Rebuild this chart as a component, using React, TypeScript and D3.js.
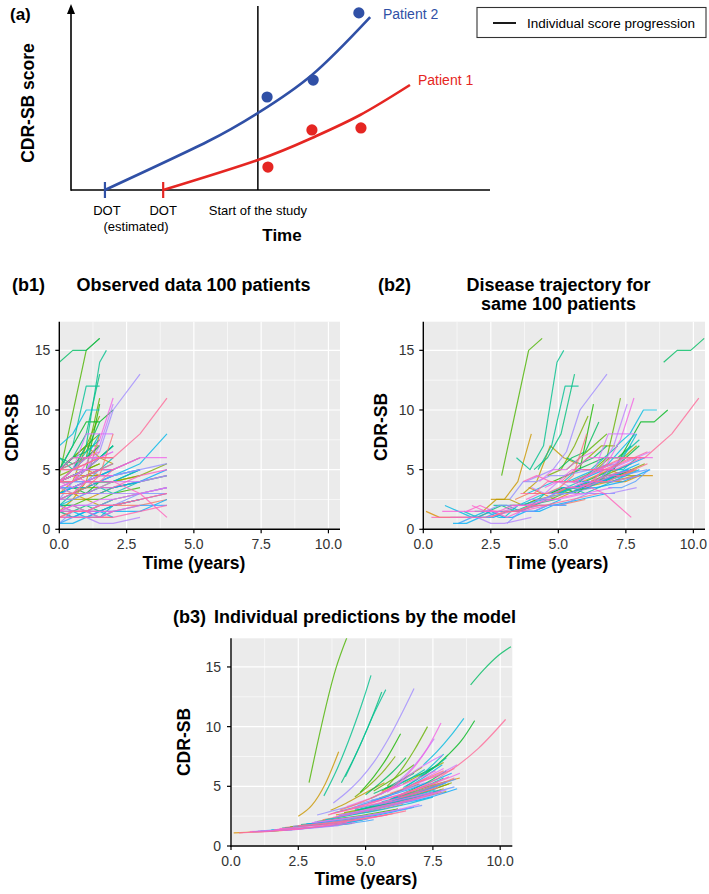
import React from "react";
import * as d3 from "d3";

// ---------- Panel (a): schematic (arbitrary units 0-100) ----------
const studyStartTime = 44.6;
const dotEstimatedTime = 8.1;
const dotObservedTime = 22;
const patient2Curve: [number, number][] = [[8.1, 0], [32.5, 26.5], [44.6, 42.3], [57.5, 63.2], [71.4, 95]];
const patient1Curve: [number, number][] = [[22, 0], [44.6, 16.5], [57.5, 28.6], [69, 41.2], [80.9, 57.7]];
const patient2Points: [number, number][] = [[46.8, 51.1], [57.8, 60.4], [68.7, 97.3]];
const patient1Points: [number, number][] = [[47, 12.6], [57.5, 33], [69.2, 34.1]];

// ---------- Panels (b): axes ----------
const xTicks = [0, 2.5, 5, 7.5, 10];
const xTickLabels = ["0.0", "2.5", "5.0", "7.5", "10.0"];
const xMinor = [1.25, 3.75, 6.25, 8.75];
const yTicks = [0, 5, 10, 15];
const yTickLabels = ["0", "5", "10", "15"];
const yMinor = [2.5, 7.5, 12.5];
const yMax = 17.4;

// visit schedules (years since study start)
const V15 = [0, 0.5, 1, 1.5];
const V2 = [0, 0.5, 1, 1.5, 2];
const V3 = [0, 0.5, 1, 1.5, 2, 3];
const V4 = [0, 0.5, 1, 1.5, 2, 3, 4];

// patient number (1..100, colour level)
const patientIds = [
  10, 93, 57, 61, 86, 89, 17, 66, 74, 52,
  97, 40, 63, 80, 31, 2, 45, 69, 71, 55,
  90, 47, 25, 83, 64, 34, 76, 95, 20, 50,
  68, 87, 73, 91, 42, 12, 30, 43, 44, 41,
  72, 96, 33, 56, 78, 84, 28, 32, 14, 16,
  38, 58, 36, 98, 60, 24, 48, 81, 67, 22,
  35, 53, 77, 99, 27, 19, 46, 85, 6, 65,
  94, 39, 54, 8, 23, 5, 100, 75, 59, 11,
  37, 26, 49, 62, 82, 92, 29, 70, 88, 4,
];

// estimated disease time at study start (years since DOT)
const onsetYears = [
  0.1, 0.3, 0.8, 1.1, 0.7, 1.6, 2.2, 1.3, 1.0, 1.5,
  2.5, 1.9, 2.8, 3.0, 3.2, 2.0, 2.6, 3.1, 3.2, 3.5,
  3.8, 4.0, 4.2, 4.5, 4.4, 4.7, 4.0, 3.6, 5.0, 4.8,
  5.3, 5.5, 3.9, 3.7, 4.6, 3.9, 2.9, 3.45, 4.25, 4.1,
  3.8, 6.2, 7.05, 7.15, 5.85, 5.8, 5.8, 4.8, 2.5, 3.7,
  8.9, 3.85, 6.0, 6.3, 6.0, 6.2, 5.9, 6.4, 6.85, 6.4,
  5.7, 6.4, 6.4, 5.9, 5.5, 6.1, 6.5, 5.6, 5.9, 5.2,
  6.8, 5.3, 5.6, 6.3, 5.6, 4.9, 4.05, 5.55, 4.6, 7.0,
  5.0, 4.6, 5.2, 6.0, 4.3, 5.1, 5.3, 2.3, 1.8, 3.4,
];

const visitYears: number[][] = [
  V2, V4, V2, V4, V2, V3, V4, V4, V3, V3,
  V4, V3, V4, V4, V3, V4, V2, V4, V4, V4,
  V4, V3, V4, V4, V4, V3, V4, V2, V3, V3,
  V3, V2, V4, V4, V2, V4, [0, 1, 1.5], [0, 0.5, 1, 1.5, 1.75], V15, V15,
  V3, V4, V2, V15, V2, V2, V15, V15, V15, V2,
  V15, V4, V2, V2, V2, V15, V2, V15, V15, V15,
  V2, V15, V2, V2, V15, V2, V15, V2, V2, V3,
  V15, V15, V2, V15, V15, V2, V2, V2, V3, V15,
  V15, V15, V2, V2, V2, V3, V15, V4, V4, V3,
];

// observed CDR-SB at each visit
const observedScores: number[][] = [
  [1.5, 1, 1, 1, 1], [1, 1, 1, 1, 1, 1.5, 2], [2, 1.5, 1, 1.5, 1], [0.5, 0.5, 1, 1, 1.5, 1.5, 2.5], [1.5, 1.5, 1.5, 1.5, 1.5],
  [1.5, 2, 1.5, 1, 1.5, 2], [1.5, 2.5, 2.5, 2, 2.5, 3, 3.5], [0.5, 1, 1, 1.5, 1.5, 2, 2], [1, 1, 1, 0.5, 0.5, 1], [1.5, 1, 1.5, 1, 2, 2.5],
  [1, 1.5, 1.5, 2, 2, 2.5, 3], [1.5, 1.5, 2, 1.5, 2, 2.5], [1, 1, 1.5, 1.5, 2, 2.5, 3], [1.5, 2, 2, 2.5, 2.5, 3, 3.5], [2, 2, 2.5, 2.5, 3, 3.5],
  [1, 1.5, 1.5, 1.5, 2, 2, 2.5], [2, 2, 1.5, 2, 2.5], [0.5, 1.5, 1.5, 2, 2, 3, 3], [2.5, 4, 4, 4.5, 4.5, 5, 5.5], [2, 2.5, 3, 3, 3.5, 4, 4.5],
  [2.5, 3, 3, 3.5, 3.5, 4.5, 5], [2, 3, 3, 3.5, 3, 4], [3, 3, 3.5, 3.5, 4, 4.5, 5.5], [3.5, 4, 5, 5, 5, 6, 6], [2.5, 3, 3, 3.5, 3.5, 4, 5],
  [3, 3.5, 3, 4, 4, 5], [3.5, 3, 4, 3.5, 4, 4, 4.5], [3, 3, 4, 4, 5], [3, 3.5, 3.5, 4, 4, 4.5], [3, 3.5, 4, 4, 4.5, 5],
  [3.5, 3.5, 4, 4, 4.5, 5], [4, 3.5, 4, 4.5, 4.5], [2.5, 2.5, 3, 3, 3, 3, 3.5], [4, 4.5, 4, 4, 4, 3, 1], [3, 3, 3.5, 4, 4],
  [3.5, 3, 2.5, 3, 3.5, 4, 4.5], [4.5, 15, 16], [6, 5, 7, 14, 15], [5, 7, 12, 12], [5, 6, 8, 13],
  [4, 4.5, 5, 6.5, 10, 13], [4, 5, 5.5, 6, 6, 8, 11], [5, 7, 9, 9, 10], [7, 8, 10, 10], [4, 5, 8, 8, 8],
  [3.5, 4, 5.5, 7.5, 11], [4, 5, 6, 11], [4, 4.5, 5, 10.5], [2.5, 2.5, 4, 8], [3, 4, 7, 6, 5.5],
  [14, 15, 15, 16], [3, 3.5, 4, 4, 4.5, 5.5, 8], [4, 4.5, 5, 6, 7], [4, 4, 4.5, 5, 5.5], [3.5, 4, 4, 4.5, 5],
  [4, 4.5, 5, 5.5], [4, 4, 5, 5, 6], [5, 5, 6, 6], [3.5, 3.5, 4, 5], [5, 6, 6, 7],
  [5, 5.5, 6, 6, 7], [4, 5, 6, 8], [4, 5, 5.5, 6, 6.5], [5, 5, 5.5, 6, 6], [4, 4.5, 5, 5.5],
  [4, 4, 4.5, 4.5, 4.5], [4, 5, 6.5, 7.5], [5, 6, 6, 6, 6], [4, 4.5, 5, 4.5, 5], [4, 4, 4.5, 5, 5, 6],
  [5, 5.5, 6, 6.5], [6, 5.5, 6, 7], [3.5, 3.5, 4, 4.5, 5], [4, 4.5, 4.5, 5], [5, 6, 7, 7],
  [3, 3.5, 3.5, 4, 4], [3, 3, 3.5, 4.5, 8], [4, 4.5, 5, 7, 10.5], [3, 3.5, 3.5, 4, 4, 5], [4, 4, 4.5, 4.5],
  [5, 6, 6.5, 9], [4.5, 5, 7, 9.5], [4, 5, 5, 6, 7], [4, 4, 4.5, 5, 5.5], [4, 5, 5, 6, 6.5],
  [4, 4, 4.5, 5, 5, 6], [5, 6, 7, 8], [1.5, 2, 2, 2, 2.5, 3, 3.5], [2, 1.5, 1.5, 2, 2, 2.5, 3], [2.5, 3, 3, 3, 3.5, 4],
];

// individual model predictions at each visit
const predictedScores: number[][] = [
  [1.1, 1.15, 1.2, 1.25, 1.35], [1.1, 1.15, 1.2, 1.3, 1.4, 1.65, 2.0], [1.2, 1.25, 1.3, 1.4, 1.5], [1.25, 1.3, 1.35, 1.45, 1.55, 1.85, 2.3], [1.2, 1.25, 1.3, 1.35, 1.45],
  [1.35, 1.45, 1.5, 1.6, 1.7, 1.95], [1.6, 1.75, 1.9, 2.05, 2.2, 2.6, 3.1], [1.3, 1.35, 1.4, 1.5, 1.6, 1.85, 2.2], [1.25, 1.3, 1.35, 1.4, 1.5, 1.7], [1.35, 1.4, 1.5, 1.55, 1.65, 1.9],
  [1.7, 1.8, 1.9, 2.05, 2.2, 2.5, 2.95], [1.5, 1.6, 1.7, 1.8, 1.9, 2.2], [1.85, 1.95, 2.1, 2.2, 2.35, 2.75, 3.25], [1.95, 2.1, 2.25, 2.4, 2.55, 2.95, 3.5], [2.05, 2.2, 2.35, 2.5, 2.7, 3.1],
  [1.55, 1.65, 1.75, 1.85, 2.0, 2.3, 2.7], [1.8, 1.9, 2.0, 2.1, 2.25], [2.0, 2.1, 2.25, 2.4, 2.55, 2.95, 3.4], [2.6, 2.9, 3.2, 3.5, 3.8, 4.5, 5.3], [2.2, 2.4, 2.6, 2.8, 3.0, 3.5, 4.1],
  [2.4, 2.6, 2.85, 3.1, 3.35, 3.9, 4.6], [2.5, 2.75, 2.95, 3.2, 3.45, 4.0], [2.8, 3.0, 3.3, 3.55, 3.85, 4.5, 5.3], [3.2, 3.5, 3.8, 4.1, 4.45, 5.2, 6.1], [2.7, 2.9, 3.1, 3.35, 3.6, 4.1, 4.8],
  [3.0, 3.25, 3.5, 3.75, 4.0, 4.6], [2.6, 2.8, 3.05, 3.3, 3.55, 4.1, 4.7], [2.6, 2.9, 3.2, 3.5, 3.85], [3.1, 3.3, 3.55, 3.8, 4.05, 4.55], [3.1, 3.35, 3.6, 3.85, 4.1, 4.7],
  [3.4, 3.6, 3.85, 4.1, 4.35, 4.95], [3.5, 3.75, 4.0, 4.25, 4.5], [2.45, 2.65, 2.9, 3.1, 3.35, 3.9, 4.5], [2.7, 2.95, 3.2, 3.45, 3.7, 4.3, 4.9], [3.0, 3.2, 3.45, 3.7, 3.95],
  [2.6, 2.8, 3.05, 3.3, 3.55, 4.1, 4.8], [5.3, 14.9, 18], [4.2, 6.5, 9.3, 12.5, 14.3], [5.8, 8.2, 10.8, 13.1], [5.3, 7.5, 10, 12.9],
  [3.6, 4.5, 5.6, 7.0, 8.8, 13.2], [4.1, 4.6, 5.1, 5.7, 6.4, 8.2, 10.6], [5.8, 6.6, 7.6, 8.8, 10.5], [6.8, 7.9, 9.2, 10.7], [4.6, 5.4, 6.3, 7.0, 7.6],
  [4.5, 5.4, 6.6, 8.2, 10.3], [5.0, 6.3, 8.0, 10.0], [4.5, 5.8, 7.4, 9.4], [2.5, 3.4, 5.2, 7.9], [3.0, 3.5, 4.1, 4.7, 5.3],
  [13.5, 14.8, 15.9, 16.7], [2.8, 3.1, 3.45, 3.8, 4.2, 5.3, 6.8], [4.0, 4.5, 5.0, 5.6, 6.3], [4.1, 4.45, 4.85, 5.25, 5.7], [3.8, 4.15, 4.5, 4.9, 5.3],
  [4.1, 4.5, 4.9, 5.4], [3.9, 4.3, 4.75, 5.2, 5.7], [4.8, 5.3, 5.9, 6.5], [4.5, 4.8, 5.2, 5.6], [5.2, 5.8, 6.4, 7.0],
  [4.8, 5.2, 5.7, 6.2, 6.8], [4.9, 5.6, 6.6, 7.7], [4.7, 5.2, 5.7, 6.2, 6.8], [4.4, 4.8, 5.3, 5.8, 6.3], [4.0, 4.4, 4.8, 5.2],
  [3.9, 4.2, 4.5, 4.85, 5.2], [5.0, 5.7, 6.5, 7.4], [4.5, 4.9, 5.35, 5.8, 6.3], [3.9, 4.2, 4.5, 4.85, 5.2], [3.8, 4.1, 4.45, 4.8, 5.2, 6.1],
  [5.2, 5.6, 6.0, 6.5], [4.4, 4.9, 5.5, 6.1], [3.7, 4.0, 4.35, 4.7, 5.1], [4.2, 4.5, 4.8, 5.2], [4.6, 5.2, 5.9, 6.6],
  [3.1, 3.35, 3.6, 3.85, 4.1], [3.0, 3.4, 3.85, 4.4, 5.0], [4.3, 5.1, 6.1, 7.4, 9.0], [3.1, 3.35, 3.6, 3.85, 4.1, 4.7], [4.8, 5.1, 5.4, 5.7],
  [4.3, 5.2, 6.2, 7.4], [4.1, 5.0, 6.1, 7.5], [4.0, 4.5, 5.1, 5.7, 6.4], [3.9, 4.25, 4.6, 5.0, 5.4], [3.3, 3.7, 4.1, 4.6, 5.1],
  [3.6, 3.9, 4.2, 4.55, 4.9, 5.8], [4.6, 5.3, 6.0, 6.8], [1.65, 1.75, 1.9, 2.05, 2.2, 2.6, 3.1], [1.45, 1.55, 1.65, 1.75, 1.9, 2.2, 2.6], [2.2, 2.4, 2.6, 2.8, 3.0, 3.5],
];

const FONT = "'Liberation Sans', Arial, Helvetica, sans-serif";
const BLUE = "#3050A6";
const RED = "#E52622";

// ggplot-like hue palette (polar LUV, c=100, l=65)
function hueColor(h: number): string {
  const L = 65, C = 100;
  const rad = (h * Math.PI) / 180;
  const u = C * Math.cos(rad), v = C * Math.sin(rad);
  const Xn = 95.047, Yn = 100, Zn = 108.883;
  const un = (4 * Xn) / (Xn + 15 * Yn + 3 * Zn);
  const vn = (9 * Yn) / (Xn + 15 * Yn + 3 * Zn);
  const Y = Yn * Math.pow((L + 16) / 116, 3);
  const up = u / (13 * L) + un;
  const vp = v / (13 * L) + vn;
  const X = (Y * 9 * up) / (4 * vp);
  const Z = (Y * (12 - 3 * up - 20 * vp)) / (4 * vp);
  const x = X / 100, y = Y / 100, z = Z / 100;
  const lin = [
    3.2404542 * x - 1.5371385 * y - 0.4985314 * z,
    -0.969266 * x + 1.8760108 * y + 0.041556 * z,
    0.0556434 * x - 0.2040259 * y + 1.0572252 * z,
  ];
  const g = lin.map((c) => {
    const cc = c <= 0.0031308 ? 12.92 * c : 1.055 * Math.pow(Math.max(c, 0), 1 / 2.4) - 0.055;
    return Math.round(Math.max(0, Math.min(1, cc)) * 255);
  });
  return `rgb(${g[0]},${g[1]},${g[2]})`;
}
const patientColor = (pid: number) => hueColor(15 + (360 * (pid - 1)) / 100);

type Mode = "obs" | "traj" | "pred";
interface PanelProps {
  left: number; right: number; top: number; bottom: number; xMax: number;
  mode: Mode; clipId: string; labelGap: number;
}

function TrajectoryPanel({ left, right, top, bottom, xMax, mode, clipId, labelGap }: PanelProps) {
  const x = d3.scaleLinear().domain([0, xMax]).range([left, right]);
  const y = d3.scaleLinear().domain([0, yMax]).range([bottom, top]);
  const line = d3.line<[number, number]>().x((d) => x(d[0])).y((d) => y(d[1]));
  if (mode === "pred") line.curve(d3.curveMonotoneX);
  const order = d3.range(patientIds.length).sort((a, b) => patientIds[a] - patientIds[b]);
  return (
    <g>
      <defs>
        <clipPath id={clipId}>
          <rect x={left} y={top} width={right - left} height={bottom - top} />
        </clipPath>
      </defs>
      <rect x={left} y={top} width={right - left} height={bottom - top} fill="#EBEBEB" />
      {xMinor.map((t) => (
        <line key={"xm" + t} x1={x(t)} x2={x(t)} y1={top} y2={bottom} stroke="#fff" strokeWidth={0.6} />
      ))}
      {yMinor.map((t) => (
        <line key={"ym" + t} x1={left} x2={right} y1={y(t)} y2={y(t)} stroke="#fff" strokeWidth={0.6} />
      ))}
      {xTicks.map((t) => (
        <line key={"xM" + t} x1={x(t)} x2={x(t)} y1={top} y2={bottom} stroke="#fff" strokeWidth={1.2} />
      ))}
      {yTicks.map((t) => (
        <line key={"yM" + t} x1={left} x2={right} y1={y(t)} y2={y(t)} stroke="#fff" strokeWidth={1.2} />
      ))}
      <g clipPath={`url(#${clipId})`}>
        {order.map((i) => {
          const pts: [number, number][] = visitYears[i].map((t, k) => [
            mode === "obs" ? t : t + onsetYears[i],
            mode === "pred" ? predictedScores[i][k] : observedScores[i][k],
          ]);
          return (
            <path key={i} d={line(pts) || ""} fill="none" stroke={patientColor(patientIds[i])}
              strokeWidth={1.2} strokeOpacity={0.8} strokeLinejoin="round" />
          );
        })}
      </g>
      <line x1={left} x2={left} y1={top} y2={bottom + 0.7} stroke="#000" strokeWidth={1.4} />
      <line x1={left - 0.7} x2={right} y1={bottom} y2={bottom} stroke="#000" strokeWidth={1.4} />
      {xTicks.map((t, k) => (
        <g key={"xt" + t}>
          <line x1={x(t)} x2={x(t)} y1={bottom} y2={bottom + 4} stroke="#000" strokeWidth={1.2} />
          <text x={x(t)} y={bottom + 20} textAnchor="middle" fontSize={14} fill="#333" fontFamily={FONT}>
            {xTickLabels[k]}
          </text>
        </g>
      ))}
      {yTicks.map((t, k) => (
        <g key={"yt" + t}>
          <line x1={left - 4} x2={left} y1={y(t)} y2={y(t)} stroke="#000" strokeWidth={1.2} />
          <text x={left - labelGap} y={y(t) + 5} textAnchor="end" fontSize={14} fill="#333" fontFamily={FONT}>
            {yTickLabels[k]}
          </text>
        </g>
      ))}
    </g>
  );
}

function PanelA() {
  const xA = d3.scaleLinear().domain([0, 100]).range([71, 490]);
  const yA = d3.scaleLinear().domain([0, 100]).range([190, 8]);
  const curve = d3.line<[number, number]>().x((d) => xA(d[0])).y((d) => yA(d[1])).curve(d3.curveNatural);
  return (
    <g fontFamily={FONT}>
      <text x={10} y={20} fontSize={17} fontWeight="bold">(a)</text>
      {/* axes */}
      <line x1={xA(0)} x2={xA(0)} y1={yA(0) + 0.8} y2={12} stroke="#000" strokeWidth={1.6} />
      <polygon points={`${xA(0)},4 ${xA(0) - 4},14 ${xA(0) + 4},14`} fill="#000" />
      <line x1={xA(0)} x2={xA(100)} y1={yA(0)} y2={yA(0)} stroke="#000" strokeWidth={1.6} />
      <line x1={xA(studyStartTime)} x2={xA(studyStartTime)} y1={6} y2={yA(0)} stroke="#000" strokeWidth={1.5} />
      {/* curves */}
      <path d={curve(patient2Curve) || ""} fill="none" stroke={BLUE} strokeWidth={2.6} />
      <path d={curve(patient1Curve) || ""} fill="none" stroke={RED} strokeWidth={2.6} />
      <line x1={xA(dotEstimatedTime)} x2={xA(dotEstimatedTime)} y1={182} y2={198} stroke={BLUE} strokeWidth={2.2} />
      <line x1={xA(dotObservedTime)} x2={xA(dotObservedTime)} y1={182} y2={198} stroke={RED} strokeWidth={2.2} />
      {patient2Points.map((p, i) => (
        <circle key={"b" + i} cx={xA(p[0])} cy={yA(p[1])} r={5.6} fill={BLUE} />
      ))}
      {patient1Points.map((p, i) => (
        <circle key={"r" + i} cx={xA(p[0])} cy={yA(p[1])} r={5.6} fill={RED} />
      ))}
      <text x={383} y={18.5} fontSize={14} fill={BLUE}>Patient 2</text>
      <text x={418} y={85} fontSize={14} fill={RED}>Patient 1</text>
      {/* labels */}
      <text x={xA(dotEstimatedTime) + 2} y={215} fontSize={13} textAnchor="middle">DOT</text>
      <text x={136} y={231} fontSize={13} textAnchor="middle">(estimated)</text>
      <text x={xA(dotObservedTime)} y={215} fontSize={13} textAnchor="middle">DOT</text>
      <text x={xA(studyStartTime)} y={215} fontSize={13} textAnchor="middle">Start of the study</text>
      <text x={282} y={241} fontSize={17} fontWeight="bold" textAnchor="middle">Time</text>
      <text transform="translate(33.5,103) rotate(-90)" fontSize={17.5} fontWeight="bold" textAnchor="middle">CDR-SB score</text>
      {/* legend */}
      <rect x={477} y={7.5} width={229} height={30} fill="#fff" stroke="#333" strokeWidth={1.1} />
      <line x1={493} x2={516} y1={23} y2={23} stroke="#000" strokeWidth={1.8} />
      <text x={527} y={27.5} fontSize={13.5}>Individual score progression</text>
    </g>
  );
}

export default function App() {
  return (
    <svg width={709} height={894} viewBox="0 0 709 894"
      style={{ position: "absolute", left: 0, top: 0, display: "block", background: "#fff" }}>
      <rect x={0} y={0} width={709} height={894} fill="#fff" />
      <PanelA />

      {/* b1 */}
      <g fontFamily={FONT}>
        <text x={12} y={291} fontSize={18} fontWeight="bold">(b1)</text>
        <text x={193.5} y={291} fontSize={18} fontWeight="bold" textAnchor="middle">Observed data 100 patients</text>
        <text x={194} y={569} fontSize={17.5} fontWeight="bold" textAnchor="middle">Time (years)</text>
        <text transform="translate(17.5,427.5) rotate(-90)" fontSize={17.5} fontWeight="bold" textAnchor="middle">CDR-SB</text>
      </g>
      <TrajectoryPanel left={59.3} right={340} top={321.7} bottom={529.3} xMax={10.43} mode="obs" clipId="clip-b1" labelGap={9} />

      {/* b2 */}
      <g fontFamily={FONT}>
        <text x={378} y={291} fontSize={18} fontWeight="bold">(b2)</text>
        <text x={558.5} y={290.5} fontSize={18} fontWeight="bold" textAnchor="middle">Disease trajectory for</text>
        <text x={558.5} y={310} fontSize={18} fontWeight="bold" textAnchor="middle">same 100 patients</text>
        <text x={557} y={569} fontSize={17.5} fontWeight="bold" textAnchor="middle">Time (years)</text>
        <text transform="translate(387,427) rotate(-90)" fontSize={17.5} fontWeight="bold" textAnchor="middle">CDR-SB</text>
      </g>
      <TrajectoryPanel left={423.3} right={705} top={321.7} bottom={529.3} xMax={10.43} mode="traj" clipId="clip-b2" labelGap={9} />

      {/* b3 */}
      <g fontFamily={FONT}>
        <text x={173} y={623} fontSize={18} fontWeight="bold">(b3)</text>
        <text x={365} y={623} fontSize={18} fontWeight="bold" textAnchor="middle">Individual predictions by the model</text>
        <text x={366} y={885} fontSize={17.5} fontWeight="bold" textAnchor="middle">Time (years)</text>
        <text transform="translate(190,742) rotate(-90)" fontSize={17.5} fontWeight="bold" textAnchor="middle">CDR-SB</text>
      </g>
      <TrajectoryPanel left={231} right={512.3} top={638.3} bottom={846} xMax={10.45} mode="pred" clipId="clip-b3" labelGap={10} />
    </svg>
  );
}
